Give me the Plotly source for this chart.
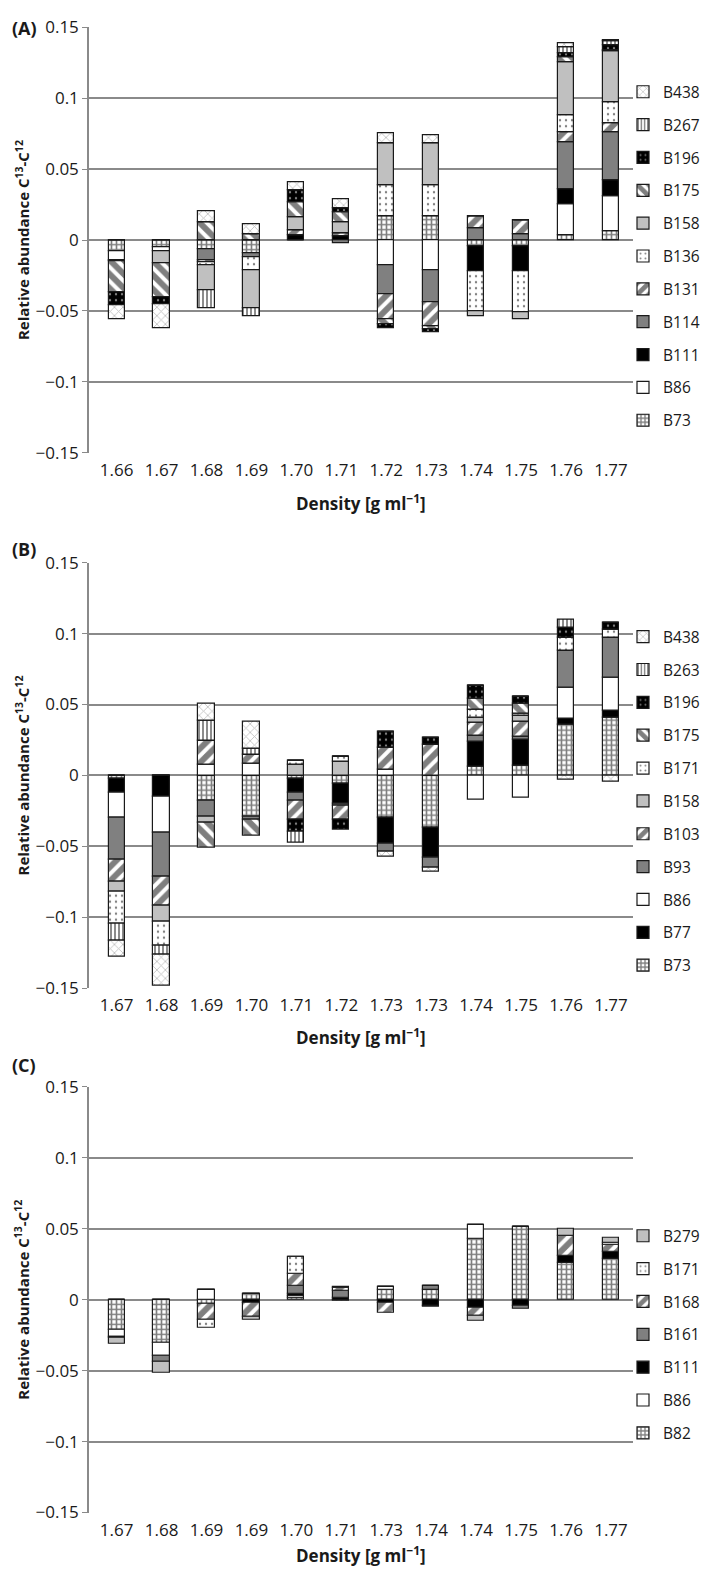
import plotly.graph_objects as go

# ---------------- DATA ----------------
A_labels = ["1.66", "1.67", "1.68", "1.69", "1.70", "1.71", "1.72", "1.73", "1.74", "1.75", "1.76", "1.77"]
A_B73 = [-0.008, -0.005, -0.0065, -0.009, 0, 0, 0.017, 0.017, -0.004, -0.004, 0.0035, 0.006]
A_B86 = [-0.006, -0.003, 0, 0, 0, 0, -0.018, -0.021, 0, 0, 0.022, 0.025]
A_B111 = [-0.001, 0, 0, 0, 0.0035, 0.0025, 0, 0, -0.018, -0.018, 0.0105, 0.011]
A_B114 = [0, 0, -0.008, -0.003, 0, -0.002, -0.020, -0.023, 0.008, 0.004, 0.033, 0.034]
A_B131 = [0, 0, -0.001, 0, 0.0035, 0.002, -0.018, -0.017, 0.009, 0.010, 0.007, 0.006]
A_B136 = [0, 0, -0.002, -0.009, 0, 0, 0.022, 0.022, -0.028, -0.029, 0.012, 0.015]
A_B158 = [0, -0.008, -0.018, -0.027, 0.009, 0.008, 0.029, 0.029, -0.004, -0.0045, 0.037, 0.036]
A_B175 = [-0.022, -0.024, 0.0125, 0.004, 0.011, 0.007, -0.003, -0.002, 0, 0, 0.004, 0.001]
A_B196 = [-0.009, -0.005, 0, 0, 0.008, 0.003, -0.003, -0.002, 0, 0, 0.003, 0.003]
A_B267 = [0, 0, -0.0125, -0.006, 0, 0, 0, 0, 0, 0, 0.004, 0.003]
A_B438 = [-0.010, -0.017, 0.0076, 0.007, 0.006, 0.006, 0.007, 0.006, 0, 0, 0.003, 0.001]

B_labels = ["1.67", "1.68", "1.69", "1.70", "1.71", "1.72", "1.73", "1.73", "1.74", "1.75", "1.76", "1.77"]
B_B73 = [-0.002, 0, -0.018, -0.029, -0.0025, -0.006, -0.030, -0.037, 0.006, 0.007, 0.0356, 0.041]
B_B77 = [-0.010, -0.015, 0, 0, -0.0094, -0.014, -0.018, -0.021, 0.018, 0.0185, 0.0046, 0.005]
B_B86 = [-0.018, -0.025, 0.0076, 0.008, 0, 0, 0.0042, 0, -0.017, -0.0155, 0.022, 0.023]
B_B93 = [-0.029, -0.031, -0.011, -0.002, -0.006, -0.001, -0.006, -0.007, 0.004, 0.0016, 0.0255, 0.028]
B_B103 = [-0.0155, -0.021, 0.017, 0.007, -0.013, -0.010, 0.0157, 0.0215, 0.009, 0.011, 0, 0]
B_B158 = [-0.0076, -0.011, -0.004, 0, 0.0077, 0.0095, 0, 0, 0.0035, 0.0042, 0, 0]
B_B171 = [-0.022, -0.017, 0, 0, 0.0025, 0.0035, 0, 0, 0.0058, 0.001, 0.0093, 0.006]
B_B175 = [0, 0, -0.0175, -0.0116, 0, 0, 0, 0, 0.008, 0.007, 0, 0]
B_B196 = [0, 0, 0, 0, -0.0086, -0.007, 0.011, 0.0055, 0.0093, 0.005, 0.007, 0.005]
B_B263 = [-0.012, -0.006, 0.0143, 0.004, -0.0076, 0, 0, 0, 0, 0, 0.006, 0]
B_B438 = [-0.0115, -0.022, 0.0116, 0.019, 0, 0, -0.003, -0.0028, 0, 0, -0.003, -0.004]

C_labels = ["1.67", "1.68", "1.69", "1.69", "1.70", "1.71", "1.73", "1.74", "1.74", "1.75", "1.76", "1.77"]
C_B82 = [-0.021, -0.0306, -0.003, 0.004, 0.001, -0.001, 0.007, 0.007, 0.0428, 0.051, 0.026, 0.0285]
C_B86 = [-0.005, -0.0093, 0.007, 0, 0.0015, 0, 0.002, 0, 0.0099, 0, 0, 0]
C_B111 = [0, 0, 0, -0.002, 0.0015, 0.001, -0.002, -0.004, -0.0058, -0.0044, 0.005, 0.005]
C_B161 = [-0.001, -0.004, 0, 0, 0.006, 0.005, 0, 0.003, 0, -0.0018, 0, 0]
C_B168 = [0, 0, -0.0115, -0.0104, 0.008, 0.002, -0.0075, 0, -0.0056, 0, 0.014, 0.0053]
C_B171 = [0, 0, -0.005, 0, 0.012, 0, 0, 0, 0, 0, 0, 0.0016]
C_B279 = [-0.004, -0.0076, 0, -0.002, 0, 0.001, 0, -0.001, -0.0037, 0, 0.005, 0.003]

y_tickvals = [-0.15, -0.1, -0.05, 0, 0.05, 0.1, 0.15]
y_ticktext = ["\u22120.15", "\u22120.1", "\u22120.05", "0", "0.05", "0.1", "0.15"]

# ---------------- STYLES ----------------
STY = {
    "grid": dict(shape="+", fgcolor="#000000", bgcolor="#ffffff", size=5, solidity=0.55),
    "white": dict(shape="", bgcolor="#ffffff"),
    "black": dict(shape="", bgcolor="#000000"),
    "dgray": dict(shape="", bgcolor="#808080"),
    "lgray": dict(shape="", bgcolor="#c0c0c0"),
    "fdiag": dict(shape="/", fgcolor="#000000", bgcolor="#ffffff", size=10, solidity=0.6),
    "bdiag": dict(shape="\\", fgcolor="#000000", bgcolor="#ffffff", size=10, solidity=0.6),
    "dots": dict(shape=".", fgcolor="#000000", bgcolor="#ffffff", size=6, solidity=0.12),
    "bdots": dict(shape=".", fgcolor="#ffffff", bgcolor="#000000", size=6, solidity=0.12),
    "vert": dict(shape="|", fgcolor="#000000", bgcolor="#ffffff", size=4, solidity=0.45),
    "zig": dict(shape="x", fgcolor="#7a7a7a", bgcolor="#ffffff", size=6, solidity=0.25),
}
COLOR = {"white": "#ffffff", "black": "#000000", "dgray": "#808080", "lgray": "#c0c0c0"}

panels = [
    dict(labels=A_labels, series=[("B73", A_B73, "grid"), ("B86", A_B86, "white"), ("B111", A_B111, "black"),
                                  ("B114", A_B114, "dgray"), ("B131", A_B131, "fdiag"), ("B136", A_B136, "dots"),
                                  ("B158", A_B158, "lgray"), ("B175", A_B175, "bdiag"), ("B196", A_B196, "bdots"),
                                  ("B267", A_B267, "vert"), ("B438", A_B438, "zig")],
         top=7.3, xt=490, letter="(A)", ly=8, legtop=56),
    dict(labels=B_labels, series=[("B73", B_B73, "grid"), ("B77", B_B77, "black"), ("B86", B_B86, "white"),
                                  ("B93", B_B93, "dgray"), ("B103", B_B103, "fdiag"), ("B158", B_B158, "lgray"),
                                  ("B171", B_B171, "dots"), ("B175", B_B175, "bdiag"), ("B196", B_B196, "bdots"),
                                  ("B263", B_B263, "vert"), ("B438", B_B438, "zig")],
         top=550.7, xt=1032, letter="(B)", ly=537, legtop=609),
    dict(labels=C_labels, series=[("B82", C_B82, "grid"), ("B86", C_B86, "white"), ("B111", C_B111, "black"),
                                  ("B161", C_B161, "dgray"), ("B168", C_B168, "fdiag"), ("B171", C_B171, "dots"),
                                  ("B279", C_B279, "lgray")],
         top=1082.7, xt=1557, letter="(C)", ly=1061, legtop=1217),
]

W, H = 709, 1572
PH = 432
X0, X1 = 81, 625
FONT = "Open Sans"
PAD = "\u00a0\u00a0\u00a0"

fig = go.Figure()
layout = dict(width=W, height=H, margin=dict(l=0, r=0, t=0, b=0), barmode="relative",
              paper_bgcolor="white", plot_bgcolor="white", bargap=0.0, annotations=[])

for i, p in enumerate(panels):
    k = "" if i == 0 else str(i + 1)
    leg = "legend" + k
    for j, (name, vals, st) in enumerate(p["series"]):
        fill = COLOR.get(st, "#ffffff")
        fig.add_trace(go.Bar(
            x=list(range(len(p["labels"]))), y=vals, name=name + PAD, width=0.36,
            xaxis="x" + k, yaxis="y" + k, legend=leg, legendgroup=leg + name, legendrank=100 - j,
            marker=dict(color=fill, pattern=STY[st], line=dict(color="#1a1a1a", width=1.2)),
        ))
    ytop = 1 - p["top"] / H
    ybot = 1 - (p["top"] + PH) / H
    layout["xaxis" + k] = dict(domain=[X0 / W, X1 / W], anchor="y" + k, range=[-0.615, 11.49],
                               tickvals=list(range(12)), ticktext=p["labels"], showgrid=False,
                               zeroline=False, showline=False, ticks="", ticklabelstandoff=5,
                               tickfont=dict(family=FONT, size=17, color="#1a1a1a"))
    layout["yaxis" + k] = dict(domain=[ybot, ytop], anchor="x" + k, range=[-0.15, 0.15],
                               tickvals=y_tickvals, ticktext=y_ticktext, showgrid=True,
                               gridcolor="#8a8a8a", gridwidth=1.5, zeroline=False, showline=True,
                               linecolor="#8a8a8a", linewidth=1.5, ticks="outside", ticklen=5,
                               tickcolor="#8a8a8a", tickfont=dict(family=FONT, size=17, color="#1a1a1a"))
    layout[leg] = dict(x=1, xanchor="right", y=1 - p["legtop"] / H, yanchor="top",
                       traceorder="grouped", tracegroupgap=9.7, bgcolor="rgba(0,0,0,0)",
                       font=dict(family=FONT, size=15.5, color="#1a1a1a"), itemclick=False)
    center = p["top"] + PH / 2
    layout["annotations"] += [
        dict(text="<b>Relative abundance C<sup>13</sup>-C<sup>12</sup></b>", textangle=-90,
             x=14 / W, y=1 - center / H, xref="paper", yref="paper", xanchor="center", yanchor="middle",
             showarrow=False, font=dict(family=FONT, size=15, color="#1a1a1a")),
        dict(text="<b>Density [g ml<sup>\u22121</sup>]</b>", x=(X0 + X1) / 2 / W, y=1 - p["xt"] / H,
             xref="paper", yref="paper", xanchor="center", yanchor="middle", showarrow=False,
             font=dict(family=FONT, size=17, color="#1a1a1a")),
        dict(text="<b>" + p["letter"] + "</b>", x=2 / W, y=1 - p["ly"] / H, xref="paper", yref="paper",
             xanchor="left", yanchor="middle", showarrow=False, font=dict(family=FONT, size=18, color="#1a1a1a")),
    ]

fig.update_layout(**layout)
fig.write_html("out.html")
